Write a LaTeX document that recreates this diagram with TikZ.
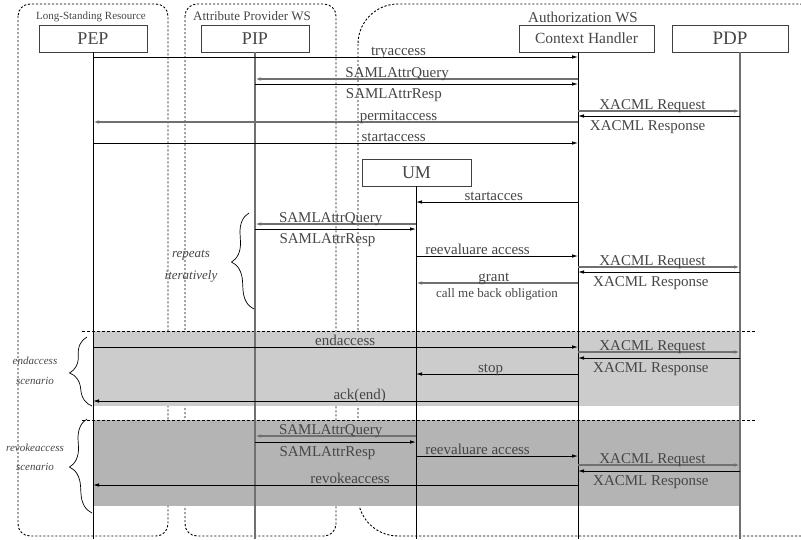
\documentclass[tikz,border=0pt]{standalone}
\usepackage{fontspec}
\usepackage{tikz}
\usepackage{xcolor}
\setmainfont{Liberation Serif}
\usetikzlibrary{arrows.meta,decorations.pathreplacing,positioning}
\definecolor{txtgray}{RGB}{70,70,70}
\definecolor{linegray}{RGB}{112,112,112}
\definecolor{shadelight}{RGB}{204,204,204}
\definecolor{shadedark}{RGB}{180,180,180}

\begin{document}
\begin{tikzpicture}[x=1pt,y=-1pt]
    % Define styles
    \tikzstyle{actor} = [rectangle, draw=black!75, line width=0.9pt, inner sep=0pt, minimum height=27pt, text=txtgray, font=\fontsize{18}{18}\selectfont]
    \tikzstyle{group} = [draw=black, dash pattern=on 2.2pt off 1.8pt, line width=0.9pt]
    \tikzstyle{sep} = [draw=black, dash pattern=on 3pt off 2pt, line width=0.9pt]
    \tikzstyle{grouplabel} = [anchor=base, text=txtgray, inner sep=0pt]
    \tikzstyle{life} = [draw=black, line width=0.8pt]
    \tikzstyle{lifegray} = [draw=linegray, line width=1.3pt]
    \tikzstyle{msg} = [-{Latex[length=6pt,width=3.5pt]}, draw=black, line width=0.8pt]
    \tikzstyle{msggray} = [-{Latex[length=6pt,width=3.5pt]}, draw=linegray, line width=1.4pt]
    \tikzstyle{lblabove} = [anchor=base, yshift=1.5pt, inner sep=0pt, text=txtgray, font=\fontsize{15}{15}\selectfont]
    \tikzstyle{lblbelow} = [anchor=base, yshift=-14pt, inner sep=0pt, text=txtgray, font=\fontsize{15}{15}\selectfont]
    \tikzstyle{brc} = [draw=black, line width=0.7pt, decorate, decoration={brace, amplitude=20pt}]
    \tikzstyle{bracetext} = [align=center, text=txtgray, inner sep=0pt]

    \useasboundingbox (0,0) rectangle (801,539);
    \clip (0,0) rectangle (801,539);

    % Groups
    \draw[group, rounded corners=12pt] (18,4) rectangle (168,536);
    \draw[group, rounded corners=12pt] (185,4) rectangle (336,536);
    \draw[group, rounded corners=40pt] (358,4) rectangle (840,536);
    \node[grouplabel, font=\fontsize{11}{11}\selectfont] (lsr) at (91,19) {Long-Standing Resource};
    \node[grouplabel, font=\fontsize{13}{13}\selectfont] (apw) at (252,20) {Attribute Provider WS};
    \node[grouplabel, font=\fontsize{15}{15}\selectfont] (azw) at (583,22) {Authorization WS};

    % Scenario backgrounds
    \fill[shadelight] (93,331) rectangle (740,406);
    \fill[shadedark] (93,420) rectangle (740,506);
    \draw[sep] (82,331) -- (755,331);
    \draw[sep] (82,420) -- (755,420);

    % Participants
    \node[actor, minimum width=108pt] (pep) at (93,38.5) {PEP};
    \node[actor, minimum width=108pt] (pip) at (255,38.5) {PIP};
    \node[actor, minimum width=135pt, font=\fontsize{15.5}{15.5}\selectfont] (ch) at (586.5,38.5) {Context Handler};
    \node[actor, minimum width=116pt, font=\fontsize{19}{19}\selectfont] (pdp) at (730,38.5) {PDP};
    \node[actor, minimum width=109pt] (um) at (416.5,172.5) {UM};

    % Lifelines
    \coordinate (pepl) at (93,52);
    \coordinate (pipl) at (255,52);
    \coordinate (chl) at (578,52);
    \coordinate (pdpl) at (740,52);
    \coordinate (uml) at (416,186);
    \draw[life] (pepl) -- (pepl |- 0,539);
    \draw[lifegray] (pipl) -- (pipl |- 0,539);
    \draw[life] (chl) -- (chl |- 0,539);
    \draw[lifegray] (pdpl) -- (pdpl |- 0,539);
    \draw[life] (uml) -- (uml |- 0,539);

    % Access request
    \draw[msg] (pepl |- 0,57) -- node[lblabove, pos=0.63] {tryaccess} (chl |- 0,57);
    \draw[msggray] (chl |- 0,79) -- node[lblabove, pos=0.56] {SAMLAttrQuery} (pipl |- 0,79);
    \draw[msg] (pipl |- 0,84) -- node[lblbelow, pos=0.43] {SAMLAttrResp} (chl |- 0,84);
    \draw[msggray] (chl |- 0,111) -- node[lblabove, pos=0.46] {XACML Request} (pdpl |- 0,111);
    \draw[msg] (pdpl |- 0,116) -- node[lblbelow, pos=0.57] {XACML Response} (chl |- 0,116);
    \draw[msggray] (chl |- 0,122) -- node[lblabove, pos=0.37] {permitaccess} (pepl |- 0,122);
    \draw[msg] (pepl |- 0,143) -- node[lblabove, pos=0.62] {startaccess} (chl |- 0,143);

    % Ongoing usage control
    \draw[msg] (chl |- 0,202) -- node[lblabove, pos=0.52] {startacces} (uml |- 0,202);
    \draw[msggray] (uml |- 0,224) -- node[lblabove, pos=0.53] {SAMLAttrQuery} (pipl |- 0,224);
    \draw[msg] (pipl |- 0,229) -- node[lblbelow, pos=0.45] {SAMLAttrResp} (uml |- 0,229);
    \draw[msg] (uml |- 0,256) -- node[lblabove, pos=0.38] {reevaluare access} (chl |- 0,256);
    \draw[msggray] (chl |- 0,267) -- node[lblabove, pos=0.46] {XACML Request} (pdpl |- 0,267);
    \draw[msg] (pdpl |- 0,272) -- node[lblbelow, pos=0.55] {XACML Response} (chl |- 0,272);
    \draw[msggray] (chl |- 0,283) -- node[lblabove, pos=0.52] {grant}
        node[lblbelow, pos=0.5, font=\fontsize{13}{13}\selectfont] {call me back obligation} (uml |- 0,283);
    \draw[brc] (254,309) -- (249,213);
    \node[bracetext, font=\itshape\fontsize{13}{22}\selectfont] (rep) at (191,266) {repeats\\iteratively};

    % endaccess scenario
    \draw[msg] (pepl |- 0,347) -- node[lblabove, pos=0.52] {endaccess} (chl |- 0,347);
    \draw[msggray] (chl |- 0,352) -- node[lblabove, pos=0.46] {XACML Request} (pdpl |- 0,352);
    \draw[msg] (pdpl |- 0,358) -- node[lblbelow, pos=0.55] {XACML Response} (chl |- 0,358);
    \draw[msg] (chl |- 0,374) -- node[lblabove, pos=0.54] {stop} (uml |- 0,374);
    \draw[msg] (chl |- 0,401) -- node[lblabove, pos=0.45] {ack(end)} (pepl |- 0,401);
    \draw[brc] (92,406) -- (87,337);
    \node[bracetext, font=\itshape\fontsize{11}{20}\selectfont] (endsc) at (35,371) {endaccess\\scenario};

    % revokeaccess scenario
    \draw[msggray] (uml |- 0,436) -- node[lblabove, pos=0.53] {SAMLAttrQuery} (pipl |- 0,436);
    \draw[msg] (pipl |- 0,442) -- node[lblbelow, pos=0.45] {SAMLAttrResp} (uml |- 0,442);
    \draw[msg] (uml |- 0,456) -- node[lblabove, pos=0.38] {reevaluare access} (chl |- 0,456);
    \draw[msggray] (chl |- 0,465) -- node[lblabove, pos=0.46] {XACML Request} (pdpl |- 0,465);
    \draw[msg] (pdpl |- 0,471) -- node[lblbelow, pos=0.55] {XACML Response} (chl |- 0,471);
    \draw[msg] (chl |- 0,485) -- node[lblabove, pos=0.47] {revokeaccess} (pepl |- 0,485);
    \draw[brc] (92,513) -- (87,419);
    \node[bracetext, font=\itshape\fontsize{11}{19}\selectfont] (revsc) at (35,457) {revokeaccess\\scenario};

\end{tikzpicture}
\end{document}
